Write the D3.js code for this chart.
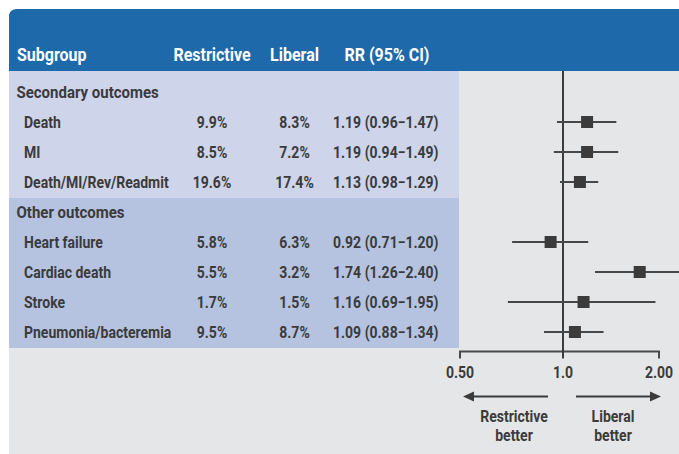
<!DOCTYPE html>
<html>
<head>
<meta charset="utf-8">
<script src="https://cdn.jsdelivr.net/npm/d3@7"></script>
<style>
  html, body { margin: 0; padding: 0; background: #ffffff; }
  svg { display: block; font-family: Roboto, "Noto Sans", sans-serif; }
</style>
</head>
<body>
<svg id="chart" width="679" height="454"></svg>
<script>
// Forest plot: secondary and other outcomes, restrictive vs liberal strategy
const sections = ["Secondary outcomes", "Other outcomes"];
const subgroups = ["Death", "MI", "Death/MI/Rev/Readmit", "Heart failure", "Cardiac death", "Stroke", "Pneumonia/bacteremia"];
const sectionOf = [0, 0, 0, 1, 1, 1, 1];
const restrictive = [9.9, 8.5, 19.6, 5.8, 5.5, 1.7, 9.5];
const liberal = [8.3, 7.2, 17.4, 6.3, 3.2, 1.5, 8.7];
const rr = [1.19, 1.19, 1.13, 0.92, 1.74, 1.16, 1.09];
const lower = [0.96, 0.94, 0.98, 0.71, 1.26, 0.69, 0.88];
const upper = [1.47, 1.49, 1.29, 1.20, 2.40, 1.95, 1.34];
const columnHeaders = ["Subgroup", "Restrictive", "Liberal", "RR (95% CI)"];
const tickValues = [0.5, 1.0, 2.0];
const tickLabels = ["0.50", "1.0", "2.00"];
const directionLabels = [["Restrictive", "better"], ["Liberal", "better"]];

const W = 679, H = 454;
const svg = d3.select("#chart");

const blue = "#1d69aa";
const bandLight = "#ced4e9";
const bandDark = "#b5c3e0";
const panelGray = "#e5e6e8";
const ink = "#3b3b3b";

const left = 9, headerTop = 9, headerBottom = 71, tableRight = 459;
const rowStep = 30;
const narrow = 0.87; // horizontal squeeze for a condensed look

// Condensed text: scaled horizontally around its anchor point
function label(parent, tx, ty, str, size, anchor, fill) {
  return parent.append("text")
    .attr("transform", `translate(${tx},${ty}) scale(${narrow},1)`)
    .attr("text-anchor", anchor || "start")
    .attr("fill", fill || ink)
    .attr("font-weight", 700)
    .attr("font-size", size / narrow)
    .text(str);
}

// Row layout: each section gets a heading row followed by its subgroups
const rows = [];
sections.forEach((s, si) => {
  rows.push({ type: "section", label: s, si });
  subgroups.forEach((g, i) => {
    if (sectionOf[i] === si) rows.push({ type: "item", i, si });
  });
});
const y = d3.scalePoint().domain(d3.range(rows.length)).range([92, 92 + rowStep * (rows.length - 1)]);

// Log scale anchored on the three labelled ticks
const x = d3.scaleLog().domain([0.5, 1, 2]).range([460, 563, 659]);

// Panel background
svg.append("rect").attr("x", left).attr("y", headerBottom)
  .attr("width", W - left).attr("height", H - headerBottom).attr("fill", panelGray);

// Header bar with rounded top-left corner
svg.append("path")
  .attr("d", `M${left},${headerBottom} V${headerTop + 8} Q${left},${headerTop} ${left + 8},${headerTop} H${W} V${headerBottom} Z`)
  .attr("fill", blue);

// Section bands behind the table
sections.forEach((s, si) => {
  const idx = rows.map((r, k) => r.si === si ? k : -1).filter(k => k >= 0);
  const top = si === 0 ? headerBottom : y(idx[0]) - rowStep / 2 + 1;
  const bottom = y(idx[idx.length - 1]) + rowStep / 2 + 1;
  svg.append("rect").attr("x", left).attr("y", top)
    .attr("width", tableRight - left).attr("height", bottom - top)
    .attr("fill", si === 0 ? bandLight : bandDark);
});

// Column headers
const colX = [17, 212, 294.5, 387];
const colAnchor = ["start", "middle", "middle", "middle"];
const hg = svg.append("g");
columnHeaders.forEach((h, k) => label(hg, colX[k], 61, h, 16, colAnchor[k], "#ffffff"));

// Table rows
const tg = svg.append("g");
rows.forEach((r, k) => {
  const yy = y(k) + 5.5;
  if (r.type === "section") {
    label(tg, 16.5, yy, r.label, 15);
  } else {
    const i = r.i;
    label(tg, 24, yy, subgroups[i], 14);
    label(tg, colX[1], yy, restrictive[i].toFixed(1) + "%", 14, "middle");
    label(tg, colX[2], yy, liberal[i].toFixed(1) + "%", 14, "middle");
    label(tg, 333, yy, `${rr[i].toFixed(2)} (${lower[i].toFixed(2)}\u2212${upper[i].toFixed(2)})`, 14);
  }
});

// Axis: bracket line with end ticks
const axisY = 351.5;
svg.append("path")
  .attr("d", `M${x(0.5)},${axisY + 7} V${axisY} H${x(2)} V${axisY + 7}`)
  .attr("stroke", "#4a4a4a").attr("stroke-width", 2).attr("fill", "none");

// Reference line at RR = 1
svg.append("line")
  .attr("x1", x(1)).attr("x2", x(1)).attr("y1", headerBottom).attr("y2", axisY + 7)
  .attr("stroke", ink).attr("stroke-width", 2);

// Tick labels
const kg = svg.append("g");
tickValues.forEach((v, k) => label(kg, x(v), 377.5, tickLabels[k], 14, "middle"));

// Confidence intervals and point estimates
const items = rows.map((r, k) => ({ ...r, k })).filter(r => r.type === "item");
const pg = svg.append("g");
pg.selectAll("line.ci").data(items).join("line").attr("class", "ci")
  .attr("x1", d => x(lower[d.i])).attr("x2", d => x(upper[d.i]))
  .attr("y1", d => y(d.k)).attr("y2", d => y(d.k))
  .attr("stroke", "#474747").attr("stroke-width", 2.2);
const sq = 12;
pg.selectAll("rect.pt").data(items).join("rect").attr("class", "pt")
  .attr("x", d => x(rr[d.i]) - sq / 2).attr("y", d => y(d.k) - sq / 2)
  .attr("width", sq).attr("height", sq).attr("fill", ink);

// Direction arrows
const arrowY = 396.5;
const arrows = [{ from: 548, to: x(0.5) + 3 }, { from: 576, to: x(2) + 2 }];
arrows.forEach(a => {
  const dir = Math.sign(a.to - a.from);
  const headLen = 11, headHalf = 5;
  svg.append("line").attr("x1", a.from).attr("x2", a.to - dir * headLen * 0.6)
    .attr("y1", arrowY).attr("y2", arrowY)
    .attr("stroke", ink).attr("stroke-width", 2);
  svg.append("path")
    .attr("d", `M${a.to},${arrowY} L${a.to - dir * headLen},${arrowY - headHalf} L${a.to - dir * headLen},${arrowY + headHalf} Z`)
    .attr("fill", ink);
});

const dirX = [514, 613];
const dg = svg.append("g");
directionLabels.forEach((lines, k) => {
  lines.forEach((t, j) => label(dg, dirX[k], 422 + j * 19, t, 14, "middle"));
});
</script>
</body>
</html>
